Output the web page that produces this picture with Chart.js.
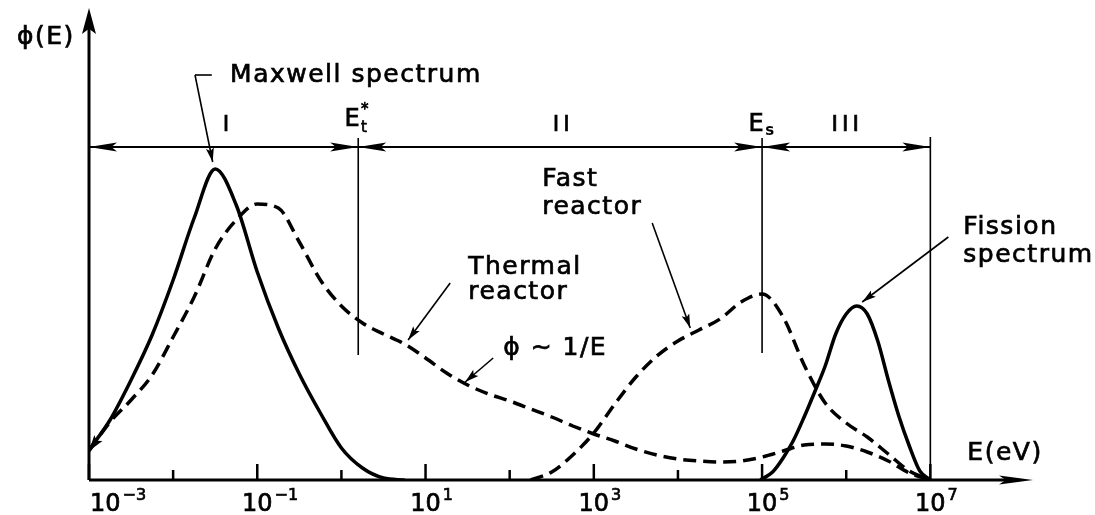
<!DOCTYPE html>
<html><head><meta charset="utf-8">
<script src="https://cdn.jsdelivr.net/npm/chart.js@4"></script>
<style>html,body{margin:0;padding:0;background:#fff;overflow:hidden}canvas{display:block}</style>
</head><body>
<canvas id="c" width="1095" height="515"></canvas>
<script>
// ---- data (x in log10 of E [eV], phi in arbitrary units) ----
const tickExponents = [-3, -2, -1, 0, 1, 2, 3, 4, 5, 6, 7];
const labelExponents = [-3, -1, 1, 3, 5, 7];
const xMinLog10 = -3;
const xMaxLog10 = 8.22;
const yMax = 472;

const maxwellLog10E = [-3.0, -2.75, -2.5, -2.25, -2.0, -1.75, -1.5, -1.25, -1.0, -0.75, -0.5, -0.25, 0.0, 0.25, 0.5, 0.75];
const maxwellPhi    = [30, 60, 100, 145, 200, 262, 311, 275, 208, 152, 106, 67, 32, 12, 2, 0];

const thermalLog10E = [-3.0, -2.75, -2.5, -2.25, -2.0, -1.75, -1.5, -1.25, -1.0, -0.75, -0.5, -0.25, 0.0, 0.25, 0.5, 0.75, 1.0, 1.25, 1.5, 1.75, 2.0, 2.25, 2.5, 2.75, 3.0, 3.25, 3.5, 3.75, 4.0, 4.25, 4.5, 4.75, 5.0, 5.25, 5.5, 5.75, 6.0, 6.25, 6.5, 6.75, 7.0];
const thermalPhi    = [29, 58, 80, 105, 143, 183, 231, 260, 276, 272, 238, 200, 174, 157, 146, 136, 122, 107, 95, 86, 79, 71, 63, 54, 46, 39, 31, 25, 21, 19, 18, 19, 23, 29, 35, 36, 34, 28, 19, 7, 0];

const fastLog10E = [2.25, 2.5, 2.75, 3.0, 3.25, 3.5, 3.75, 4.0, 4.25, 4.5, 4.75, 5.0, 5.25, 5.5, 5.75, 6.0, 6.25, 6.5, 6.75, 7.0];
const fastPhi    = [0, 8, 25, 47, 76, 103, 124, 139, 150, 161, 178, 186, 163, 115, 77, 57, 43, 26, 9, 0];

const fissionLog10E = [4.98, 5.125, 5.25, 5.375, 5.5, 5.625, 5.75, 5.875, 6.0, 6.125, 6.25, 6.375, 6.5, 6.625, 6.75, 6.875, 7.0];
const fissionPhi    = [0, 8, 22, 40, 63, 88, 114, 146, 166, 174, 166, 139, 100, 64, 34, 9, 0];

const boundaryEt = 0.2;   // log10 E of E_t*
const boundaryEs = 5.0;   // log10 E of E_s
const boundaryEnd = 7.0;  // log10 E of upper limit

function pts(logs, vals) { return logs.map((l, i) => ({ x: Math.pow(10, l), y: vals[i] })); }

const FONT = '"DejaVu Sans", "Liberation Sans", sans-serif';

function head(ctx, tx, ty, fx, fy, len, hw) {
  const a = Math.atan2(ty - fy, tx - fx);
  ctx.save();
  ctx.translate(tx, ty); ctx.rotate(a);
  ctx.beginPath();
  ctx.moveTo(0, 0); ctx.lineTo(-len, -hw); ctx.lineTo(-len * 0.8, 0); ctx.lineTo(-len, hw);
  ctx.closePath(); ctx.fill();
  ctx.restore();
}

function boldText(ctx, s, x, y) {
  ctx.fillText(s, x, y);
  ctx.lineWidth = 0.7;
  ctx.strokeText(s, x, y);
}

const decor = {
  id: 'decor',
  afterDatasetsDraw(chart) {
    const ctx = chart.ctx, xs = chart.scales.x, ys = chart.scales.y, ca = chart.chartArea;
    const X = l => xs.getPixelForValue(Math.pow(10, l));
    const Y = v => ys.getPixelForValue(v);
    ctx.save();
    ctx.fillStyle = '#000'; ctx.strokeStyle = '#000';
    const x0 = X(xMinLog10), y0 = Y(0);

    // axes
    ctx.lineWidth = 3;
    ctx.beginPath(); ctx.moveTo(x0, y0); ctx.lineTo(x0, ca.top + 20); ctx.stroke();
    head(ctx, x0, ca.top, x0, y0, 26, 7);
    ctx.beginPath(); ctx.moveTo(x0, y0); ctx.lineTo(ca.right - 20, y0); ctx.stroke();
    head(ctx, ca.right, y0, x0, y0, 34, 4.5);

    // ticks (inside, upward)
    ctx.lineWidth = 2.5;
    tickExponents.forEach(e => {
      const tx = X(e);
      const len = labelExponents.includes(e) ? 16 : 10;
      ctx.beginPath(); ctx.moveTo(tx, y0); ctx.lineTo(tx, y0 - len); ctx.stroke();
    });

    // tick labels 10^n
    ctx.textBaseline = 'middle';
    labelExponents.forEach(e => {
      ctx.font = '24px ' + FONT;
      const w = ctx.measureText('10').width;
      let cx = Math.max(X(e), ca.left + w / 2 + 1);
      ctx.textAlign = 'center';
      boldText(ctx, '10', cx, y0 + 25);
      ctx.font = '16px ' + FONT;
      ctx.textAlign = 'left';
      boldText(ctx, e < 0 ? '\u2212' + Math.abs(e) : String(e), cx + w / 2 + 2, y0 + 16);
    });

    // boundary lines
    ctx.lineWidth = 1.6;
    [[boundaryEt, 342, 125], [boundaryEs, 342, 127], [boundaryEnd, 343, 0]].forEach(([l, a, b]) => {
      ctx.beginPath(); ctx.moveTo(X(l), Y(a)); ctx.lineTo(X(l), Y(b)); ctx.stroke();
    });

    // region arrows
    const ry = Y(333);
    ctx.lineWidth = 2.2;
    ctx.beginPath(); ctx.moveTo(x0, ry); ctx.lineTo(X(boundaryEnd), ry); ctx.stroke();
    [[xMinLog10, boundaryEt], [boundaryEt, boundaryEs], [boundaryEs, boundaryEnd]].forEach(([a, b]) => {
      head(ctx, X(a), ry, X(b), ry, 28, 4.5);
      head(ctx, X(b), ry, X(a), ry, 28, 4.5);
    });

    // texts
    ctx.letterSpacing = '1.5px';
    ctx.textAlign = 'left';
    const txt = (s, l, v, size) => { ctx.font = (size || 25) + 'px ' + FONT; boldText(ctx, s, X(l), Y(v)); };
    txt('\u03D5(E)', -3.856, 443);
    txt('Maxwell spectrum', -1.323, 405);
    txt('Fast', 2.386, 301);
    txt('reactor', 2.386, 273);
    txt('Thermal', 1.507, 213);
    txt('reactor', 1.507, 188);
    txt('\u03D5 \u223C 1/E', 1.923, 132);
    txt('Fission', 7.392, 253);
    txt('spectrum', 7.392, 225);
    txt('E(eV)', 7.44, 27);

    // region labels
    ctx.textAlign = 'center';
    ctx.letterSpacing = '4px';
    ctx.font = '22px ' + FONT;
    boldText(ctx, 'I', X(-1.347), Y(355));
    boldText(ctx, 'II', X(2.636), Y(355));
    boldText(ctx, 'III', X(6.013), Y(355));
    ctx.letterSpacing = '0px';

    // E_t* and E_s
    ctx.font = '24px ' + FONT;
    boldText(ctx, 'E', X(0.127), Y(360));
    ctx.textAlign = 'left';
    ctx.font = '15px ' + FONT;
    boldText(ctx, 't', X(0.127) + 9, Y(352));
    boldText(ctx, '*', X(0.127) + 9, Y(370));
    ctx.textAlign = 'center';
    ctx.font = '24px ' + FONT;
    boldText(ctx, 'E', X(4.93), Y(355));
    ctx.textAlign = 'left';
    ctx.font = 'bold 15px ' + FONT;
    ctx.fillText('s', X(4.93) + 9, Y(349));

    // leaders
    ctx.lineWidth = 1.6;
    const leader = (p, len) => {
      ctx.lineWidth = 1.6;
      ctx.beginPath(); ctx.moveTo(X(p[0][0]), Y(p[0][1]));
      for (let i = 1; i < p.length; i++) ctx.lineTo(X(p[i][0]), Y(p[i][1]));
      ctx.stroke();
      const n = p.length;
      head(ctx, X(p[n - 1][0]), Y(p[n - 1][1]), X(p[n - 2][0]), Y(p[n - 2][1]), len || 14, 4);
    };
    ctx.beginPath(); ctx.moveTo(X(-1.74), Y(405)); ctx.lineTo(X(-1.54), Y(405)); ctx.stroke();
    leader([[-1.74, 405], [-1.53, 318]]);
    leader([[3.694, 257], [4.146, 152]]);
    leader([[1.293, 197], [0.793, 140]]);
    leader([[1.804, 122], [1.471, 98]]);
    leader([[7.214, 243], [6.19, 178]]);

    // arrow end mark on thermal curve at lower-left
    head(ctx, X(thermalLog10E[0]), Y(thermalPhi[0]), X(thermalLog10E[1]), Y(thermalPhi[1]), 16, 5);
    ctx.restore();
  }
};

const common = { borderColor: '#000', borderWidth: 3.5, pointRadius: 0, fill: false, cubicInterpolationMode: 'monotone' };

new Chart(document.getElementById('c'), {
  type: 'line',
  data: {
    datasets: [
      Object.assign({ label: 'Maxwell spectrum', data: pts(maxwellLog10E, maxwellPhi) }, common),
      Object.assign({ label: 'Thermal reactor', data: pts(thermalLog10E, thermalPhi), borderDash: [13, 7] }, common),
      Object.assign({ label: 'Fast reactor', data: pts(fastLog10E, fastPhi), borderDash: [13, 7] }, common),
      Object.assign({ label: 'Fission spectrum', data: pts(fissionLog10E, fissionPhi) }, common)
    ]
  },
  options: {
    responsive: false, animation: false, devicePixelRatio: 1,
    layout: { padding: { left: 89, right: 62, top: 8, bottom: 35 } },
    plugins: { legend: { display: false }, tooltip: { enabled: false } },
    scales: {
      x: { type: 'logarithmic', display: false, min: Math.pow(10, xMinLog10), max: Math.pow(10, xMaxLog10) },
      y: { type: 'linear', display: false, min: 0, max: yMax }
    }
  },
  plugins: [decor]
});
</script>
</body></html>
